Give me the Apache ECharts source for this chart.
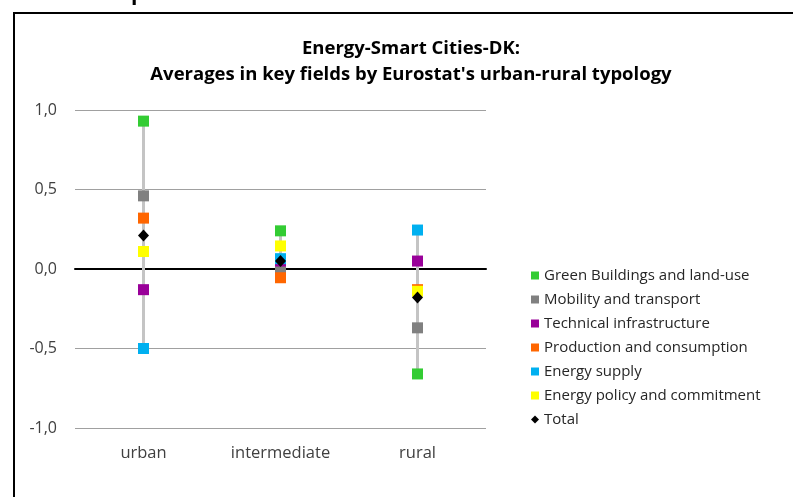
<!DOCTYPE html>
<html>
  <head>
    <meta charset="utf-8" />
    <title>Energy-Smart Cities-DK</title>
    <style type="text/css">
      html,
      body {
        margin: 0;
        padding: 0;
        background: #fff;
      }
    </style>
    <script src="https://cdn.jsdelivr.net/npm/echarts@6/dist/echarts.min.js"></script>
  </head>
  <body>
    <div id="chart" style="width: 793px; height: 497px"></div>
    <script type="text/javascript">
      var categories = ["urban", "intermediate", "rural"];
      var fieldNames = [
        "Green Buildings and land-use",
        "Mobility and transport",
        "Technical infrastructure",
        "Production and consumption",
        "Energy supply",
        "Energy policy and commitment",
        "Total",
      ];
      var fieldColors = ["#33cc33", "#808080", "#990099", "#ff6600", "#00b0f0", "#ffff00", "#000000"];

      var greenBuildings = [0.93, 0.24, -0.66];
      var mobility = [0.46, 0.0, -0.37];
      var technical = [-0.13, 0.05, 0.05];
      var production = [0.32, -0.055, -0.13];
      var energySupply = [-0.5, 0.065, 0.245];
      var energyPolicy = [0.11, 0.145, -0.14];
      var total = [0.21, 0.05, -0.18];

      var yTicks = [-1, -0.5, 0, 0.5, 1];

      var allValues = [greenBuildings, mobility, technical, production, energySupply, energyPolicy, total];
      var fontFam = "'Open Sans', sans-serif";

      // high-low range per category
      var rangeData = categories.map(function (c, i) {
        var vals = allValues.slice(0, 6).map(function (a) { return a[i]; });
        return [i, Math.min.apply(null, vals), Math.max.apply(null, vals)];
      });

      var chart = echarts.init(document.getElementById("chart"));

      var series = [
        {
          type: "custom",
          name: "range",
          silent: true,
          data: rangeData,
          renderItem: function (params, api) {
            var lo = api.coord([api.value(0), api.value(1)]);
            var hi = api.coord([api.value(0), api.value(2)]);
            return {
              type: "line",
              shape: { x1: lo[0], y1: lo[1], x2: hi[0], y2: hi[1] },
              style: { stroke: "#c4c4c4", lineWidth: 3 },
            };
          },
          z: 1,
        },
      ];

      allValues.forEach(function (vals, k) {
        series.push({
          name: fieldNames[k],
          type: "scatter",
          symbol: k === 6 ? "diamond" : "rect",
          symbolSize: k === 6 ? [11, 12] : 11,
          itemStyle: { color: fieldColors[k], opacity: 1 },
          data: vals,
          z: 2 + k,
        });
      });

      chart.setOption({
        animation: false,
        textStyle: { fontFamily: fontFam },
        title: {
          text: "Energy-Smart Cities-DK:\nAverages in key fields by Eurostat's urban-rural typology",
          left: 406,
          top: 31,
          textAlign: "center",
          textStyle: { fontSize: 18.5, fontWeight: "bold", lineHeight: 26, color: "#000", fontFamily: fontFam },
        },
        graphic: [
          {
            type: "rect",
            shape: { x: 14, y: 13, width: 800, height: 520 },
            style: { fill: "none", stroke: "#000", lineWidth: 2 },
            silent: true,
          },
          {
            type: "text",
            left: 60,
            top: -16,
            style: { text: "Municipalities", font: "bold 21px " + fontFam, fill: "#000" },
            silent: true,
          },
        ],
        legend: {
          orient: "vertical",
          left: 526,
          top: 263,
          itemWidth: 8,
          itemHeight: 8,
          itemGap: 9,
          textStyle: { fontSize: 15, color: "#262626", fontFamily: fontFam },
          data: fieldNames.map(function (n, k) {
            return { name: n, icon: k === 6 ? "diamond" : "rect" };
          }),
        },
        grid: { left: 75, right: 307, top: 110, bottom: 69 },
        xAxis: {
          type: "category",
          data: categories,
          axisTick: { show: false },
          axisLine: { onZero: true, lineStyle: { color: "#000", width: 2 } },
          axisLabel: { margin: 17, fontSize: 16.5, color: "#404040" },
        },
        yAxis: {
          type: "value",
          min: yTicks[0],
          max: yTicks[yTicks.length - 1],
          interval: 0.5,
          axisLine: { show: false },
          axisTick: { show: false },
          splitLine: { lineStyle: { color: "#a0a0a0", width: 1 } },
          axisLabel: {
            margin: 18,
            fontSize: 16,
            color: "#404040",
            formatter: function (v) { return v.toFixed(1).replace(".", ","); },
          },
        },
        series: series,
      });
    </script>
  </body>
</html>
